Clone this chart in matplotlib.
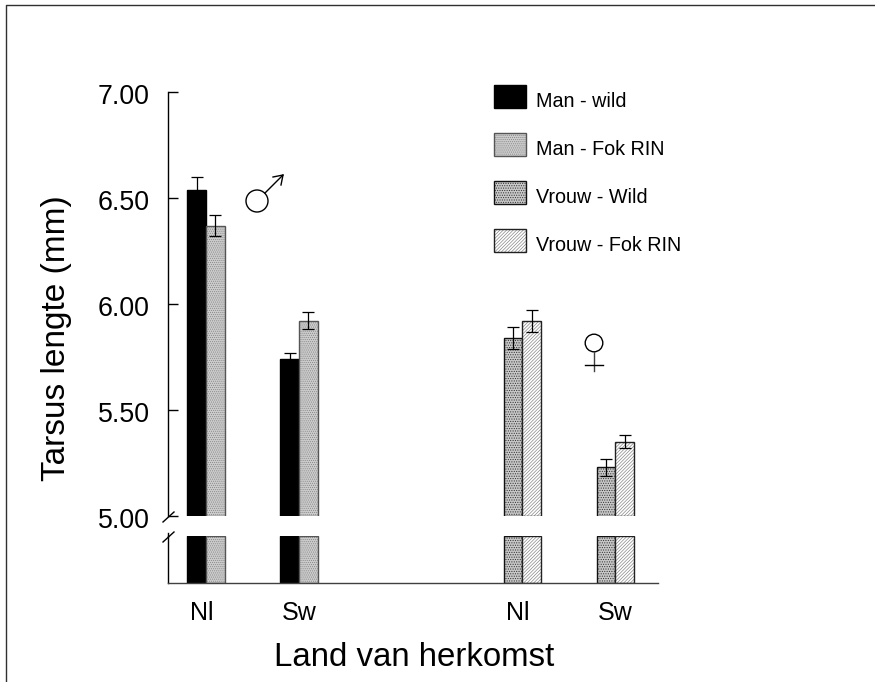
import matplotlib
matplotlib.use("Agg")
import matplotlib.pyplot as plt
from matplotlib.lines import Line2D
from matplotlib.patches import Circle, Rectangle
from matplotlib.transforms import IdentityTransform, ScaledTranslation

plt.rcParams['font.family'] = ['Liberation Sans', 'DejaVu Sans']
plt.rcParams['hatch.linewidth'] = 0.5

W, H = 875, 682

# data
group_pos = [0, 1, 3.4, 4.4]
tick_pos = [-0.05, 1, 3.35, 4.4]
group_labels = ['Nl', 'Sw', 'Nl', 'Sw']
series_names = ['Man - wild', 'Man - Fok RIN', 'Vrouw - Wild', 'Vrouw - Fok RIN']
left_means = [6.54, 5.74, 5.84, 5.23]
left_errs = [0.06, 0.03, 0.05, 0.04]
right_means = [6.37, 5.92, 5.92, 5.35]
right_errs = [0.05, 0.04, 0.05, 0.03]
y_ticks = [5.0, 5.5, 6.0, 6.5, 7.0]

# style for each series: fill, hatch colour, hatch, outline
man_wild = ('black', 'black', None, 'black')
man_fok = ('#cccccc', '#888888', '........', '#555555')
vrouw_wild = ('#c8c8c8', '#333333', '.......', '#111111')
vrouw_fok = ('white', '#888888', '//////////', '#222222')
left_style = [man_wild, man_wild, vrouw_wild, vrouw_wild]
right_style = [man_fok, man_fok, vrouw_fok, vrouw_fok]

bar_w = 0.2


def px_axes(fig, x0, y_top, x1, y_bot):
    return fig.add_axes([x0 / W, 1 - y_bot / H, (x1 - x0) / W, (y_bot - y_top) / H])


def px(x, y):
    return x, H - y


def hatched_bar(a, x, height, bottom, st):
    # hatch takes the edge colour, so the outline goes on as a second bar
    a.bar(x, height, bar_w, bottom=bottom, facecolor=st[0], edgecolor=st[1], hatch=st[2], linewidth=0)
    a.bar(x, height, bar_w, bottom=bottom, fill=False, edgecolor=st[3], linewidth=1)


fig = plt.figure(figsize=(W / 100, H / 100), dpi=100)
ax = px_axes(fig, 168, 92, 658, 516)
low = px_axes(fig, 168, 536, 658, 583)

for a in (ax, low):
    a.set_xlim(-0.409, 4.86)
    a.patch.set_alpha(0)
    for s in ['top', 'right']:
        a.spines[s].set_visible(False)
    a.spines['left'].set_linewidth(1)

ax.set_ylim(5, 7)
ax.spines['bottom'].set_visible(False)
ax.set_xticks([])
ax.set_yticks(y_ticks)
ax.set_yticklabels(['%.2f' % t for t in y_ticks], fontsize=19.3)
ax.tick_params(axis='y', direction='in', length=7, width=1, pad=13)
# labels sit a little under their ticks
shift = ScaledTranslation(0, -2 / 100, fig.dpi_scale_trans)
for lab in ax.get_yticklabels():
    lab.set_transform(lab.get_transform() + shift)

low.set_ylim(0, 1)
low.set_yticks([])
low.set_xticks(tick_pos)
low.set_xticklabels(group_labels, fontsize=18)
low.tick_params(axis='x', length=0, pad=13)
low.spines['bottom'].set_linewidth(1)
low.spines['bottom'].set_color('#404040')

for i, x in enumerate(group_pos):
    for off, m, e, st in [(-bar_w / 2, left_means[i], left_errs[i], left_style[i]),
                          (bar_w / 2, right_means[i], right_errs[i], right_style[i])]:
        hatched_bar(ax, x + off, m - 5, 5, st)
        hatched_bar(low, x + off, 1, 0, st)
        ax.errorbar(x + off, m, yerr=e, color='black', capsize=4, elinewidth=0.9,
                    capthick=0.9, clip_on=False, zorder=5)

fig.text(57 / W, 1 - 338 / H, 'Tarsus lengte (mm)', rotation=90, fontsize=24,
         ha='center', va='center')
fig.text(414 / W, 1 - 658 / H, 'Land van herkomst', fontsize=23.8, ha='center', va='center')

t = IdentityTransform()

# legend, one swatch per row
for i, (name, st) in enumerate(zip(series_names, [man_wild, man_fok, vrouw_wild, vrouw_fok])):
    y_top = 85 + 48 * i
    x0, y0 = px(494, y_top + 23)
    fig.add_artist(Rectangle((x0, y0), 32, 23, transform=t, facecolor=st[0], edgecolor=st[1],
                             hatch=st[2], linewidth=0))
    fig.add_artist(Rectangle((x0, y0), 32, 23, transform=t, fill=False, edgecolor=st[3], linewidth=1))
    fig.text(536 / W, 1 - (y_top + 22) / H, name, fontsize=14.2, ha='left', va='baseline')


def line(xs, ys, lw=1.0, color='black'):
    p = [px(x, y) for x, y in zip(xs, ys)]
    fig.add_artist(Line2D([q[0] for q in p], [q[1] for q in p], lw=lw, color=color, transform=t))


# axis break marks
line([163, 174], [522, 512])
line([163, 174], [542, 532])
line([168, 168], [536, 533])

# male and female signs
fig.add_artist(Circle(px(257, 201), 11, transform=t, fill=False, ec='black', lw=1))
line([265, 283], [193, 175])
line([273, 283, 281], [177, 175, 185])

fig.add_artist(Circle(px(594, 343), 8.8, transform=t, fill=False, ec='black', lw=1))
line([594, 594], [352, 371], color='#404040')
line([585, 603], [365, 365])

# outer frame of the scanned figure
fig.add_artist(Line2D([6, 6, W], [0, H - 5, H - 5], lw=1, color='#303030', transform=t))

fig.savefig('out.png', dpi=100)
